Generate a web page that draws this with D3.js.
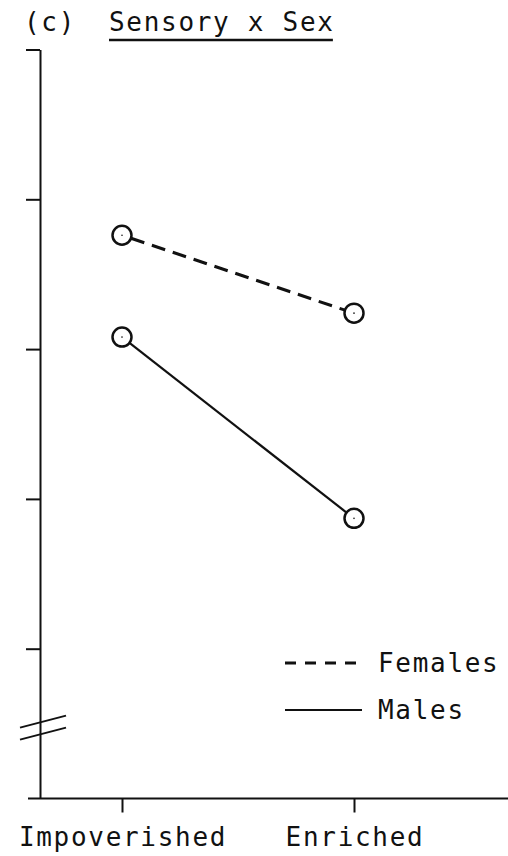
<!DOCTYPE html>
<html>
<head>
<meta charset="utf-8">
<script src="https://cdn.jsdelivr.net/npm/d3@7"></script>
<style>
  html, body { margin: 0; padding: 0; background: #fff; }
  svg { display: block; }
  text { font-family: "DejaVu Sans Mono", "Liberation Mono", monospace; fill: #111; }
</style>
</head>
<body>
<svg id="chart" width="508" height="856"></svg>
<script>
// ---- data ----
const categories = ["Impoverished", "Enriched"];
const females = [3.76, 3.24];
const males = [3.08, 1.87];
const seriesNames = ["Females", "Males"];
const yTicks = [1, 2, 3, 4, 5];
const panelLabel = "(c)";
const title = "Sensory x Sex";

const svg = d3.select("#chart");
const ink = "#111";
const fs = 26, ls = 1.7;

const x = d3.scalePoint().domain(categories).range([122, 354]);
const y = d3.scaleLinear().domain([0, 5]).range([798.5, 49.5]);

// y axis (no labels, ticks to the left)
const yAxis = d3.axisLeft(y).tickValues(yTicks).tickSize(14).tickSizeOuter(0).tickFormat("");
const gy = svg.append("g").attr("transform", "translate(40,0)").call(yAxis);
gy.selectAll("path, line").attr("stroke", ink).attr("stroke-width", 2);

// x axis line extending a bit left of y axis
svg.append("line")
  .attr("x1", 28).attr("x2", 508)
  .attr("y1", y(0)).attr("y2", y(0))
  .attr("stroke", ink).attr("stroke-width", 2);

// x ticks (downward) and labels
const xAxis = d3.axisBottom(x).tickSize(14).tickSizeOuter(0).tickFormat("");
const gx = svg.append("g").attr("transform", `translate(0,${y(0)})`).call(xAxis);
gx.select(".domain").remove();
gx.selectAll("line").attr("stroke", ink).attr("stroke-width", 2);

svg.selectAll("text.cat").data(categories).enter().append("text")
  .attr("class", "cat")
  .attr("x", d => x(d) + 1)
  .attr("y", 846)
  .attr("text-anchor", "middle")
  .attr("font-size", fs)
  .attr("letter-spacing", ls)
  .text(d => d);

// axis break marks
const breakVal = 0.5;
const by = y(breakVal);
[-6, 6].forEach(off => {
  svg.append("line")
    .attr("x1", 20).attr("y1", by + off + 10)
    .attr("x2", 66).attr("y2", by + off - 2)
    .attr("stroke", ink).attr("stroke-width", 2);
});

// title
svg.append("text").attr("x", 24).attr("y", 31)
  .attr("font-size", fs).attr("letter-spacing", ls).text(panelLabel);
const titleText = svg.append("text").attr("x", 109).attr("y", 31)
  .attr("font-size", fs).attr("letter-spacing", ls).text(title);
const tw = titleText.node().getComputedTextLength();
svg.append("line")
  .attr("x1", 109).attr("x2", 109 + tw - ls)
  .attr("y1", 40).attr("y2", 40)
  .attr("stroke", ink).attr("stroke-width", 2.5);

// series
const series = [
  { name: seriesNames[0], values: females, dash: "14,8", width: 3 },
  { name: seriesNames[1], values: males, dash: null, width: 2.2 }
];
const r = 9.5;

series.forEach(s => {
  const pts = categories.map((c, i) => [x(c), y(s.values[i])]);
  const [p0, p1] = pts;
  const dx = p1[0] - p0[0], dy = p1[1] - p0[1];
  const len = Math.hypot(dx, dy);
  const ux = dx / len, uy = dy / len;
  svg.append("line")
    .attr("x1", p0[0] + ux * r).attr("y1", p0[1] + uy * r)
    .attr("x2", p1[0] - ux * r).attr("y2", p1[1] - uy * r)
    .attr("stroke", ink).attr("stroke-width", s.width)
    .attr("stroke-dasharray", s.dash);
  svg.selectAll(null).data(pts).enter().append("circle")
    .attr("cx", d => d[0]).attr("cy", d => d[1]).attr("r", r)
    .attr("fill", "#fff").attr("stroke", ink).attr("stroke-width", 2.5);
  svg.selectAll(null).data(pts).enter().append("circle")
    .attr("cx", d => d[0]).attr("cy", d => d[1]).attr("r", 0.8)
    .attr("fill", ink);
});

// legend
const legendY = [663, 710];
series.forEach((s, i) => {
  svg.append("line")
    .attr("x1", 285).attr("x2", i === 0 ? 358 : 362)
    .attr("y1", legendY[i]).attr("y2", legendY[i])
    .attr("stroke", ink).attr("stroke-width", i === 0 ? 3 : 2.2)
    .attr("stroke-dasharray", i === 0 ? "11,9" : null);
  svg.append("text")
    .attr("x", 378).attr("y", legendY[i] + 9)
    .attr("font-size", fs).attr("letter-spacing", ls)
    .text(s.name);
});
</script>
</body>
</html>
